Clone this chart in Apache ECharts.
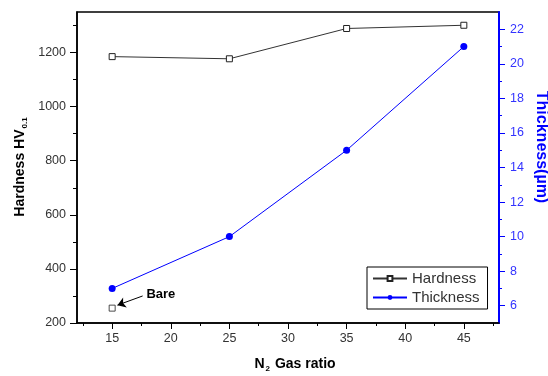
<!DOCTYPE html>
<html>
<head>
<meta charset="utf-8">
<script src="https://cdn.jsdelivr.net/npm/echarts@6/dist/echarts.min.js"></script>
<style>html,body{margin:0;padding:0;background:#fff;}#c{width:548px;height:376px;}</style>
</head>
<body>
<div id="c"></div>
<script>
var gasRatio = [15, 25, 35, 45];
var hardness = [1185, 1177, 1289, 1301];
var thickness = [7, 10, 15, 21];
var bareRatio = 15;
var bareHardness = 255;
var xTicks = [15, 20, 25, 30, 35, 40, 45];
var xMinorTicks = [12.5, 17.5, 22.5, 27.5, 32.5, 37.5, 42.5, 47.5];
var hTicks = [200, 400, 600, 800, 1000, 1200];
var hMinorTicks = [300, 500, 700, 900, 1100, 1300];
var tTicks = [6, 8, 10, 12, 14, 16, 18, 20, 22];
var tMinorTicks = [7, 9, 11, 13, 15, 17, 19, 21];

var FONT = '"Liberation Sans", Arial, sans-serif';
var BLUE = '#0000ff';

var chart = echarts.init(document.getElementById('c'), null, {renderer: 'canvas'});
var labelStyle = {fontFamily: FONT, fontSize: 12.5, color: '#333', formatter: function (v) { return String(v); }};

chart.setOption({
  animation: false,
  backgroundColor: '#fff',
  grid: {left: 77, right: 49, top: 12, bottom: 53, show: true, borderColor: '#000', borderWidth: 1.5},
  legend: {
    data: ['Hardness', 'Thickness'],
    orient: 'vertical', left: 367, top: 267,
    backgroundColor: '#fff', borderColor: '#000', borderWidth: 1, borderRadius: 0,
    padding: [4, 8, 4, 5], itemGap: 4, itemWidth: 34, itemHeight: 6,
    textStyle: {fontFamily: FONT, fontSize: 15, color: '#333'}
  },
  xAxis: [{
    type: 'value', min: 12, max: 48, position: 'bottom',
    axisLine: {show: true, lineStyle: {color: '#000', width: 1.5}},
    axisTick: {show: true, length: 6, customValues: xTicks, lineStyle: {color: '#000'}},
    axisLabel: Object.assign({customValues: xTicks, margin: 9}, labelStyle),
    splitLine: {show: false}
  }, {
    type: 'value', min: 12, max: 48, position: 'bottom',
    axisLine: {show: false},
    axisTick: {show: true, length: 3, customValues: xMinorTicks, lineStyle: {color: '#000'}},
    axisLabel: {show: false},
    splitLine: {show: false}
  }],
  yAxis: [{
    type: 'value', min: 200, max: 1350, position: 'left',
    axisLine: {show: true, lineStyle: {color: '#000', width: 1.5}},
    axisTick: {show: true, length: 7, customValues: hTicks, lineStyle: {color: '#000'}},
    axisLabel: Object.assign({customValues: hTicks, margin: 11}, labelStyle),
    splitLine: {show: false}
  }, {
    type: 'value', min: 200, max: 1350, position: 'left',
    axisLine: {show: false},
    axisTick: {show: true, length: 4, customValues: hMinorTicks, lineStyle: {color: '#000'}},
    axisLabel: {show: false},
    splitLine: {show: false}
  }, {
    type: 'value', min: 5, max: 23, position: 'right',
    axisLine: {show: true, lineStyle: {color: BLUE, width: 2}},
    axisTick: {show: true, length: 6, customValues: tTicks, lineStyle: {color: BLUE}},
    axisLabel: Object.assign({customValues: tTicks, margin: 11}, labelStyle, {color: '#3333ff'}),
    splitLine: {show: false}
  }, {
    type: 'value', min: 5, max: 23, position: 'right',
    axisLine: {show: false},
    axisTick: {show: true, length: 3, customValues: tMinorTicks, lineStyle: {color: BLUE}},
    axisLabel: {show: false},
    splitLine: {show: false}
  }],
  graphic: [{
    type: 'text', x: 20, y: 167, rotation: Math.PI / 2,
    style: {
      text: '{b|Hardness HV}{s|0.1}', align: 'center', verticalAlign: 'middle',
      rich: {
        b: {fontFamily: FONT, fontSize: 14, fontWeight: 'bold', fill: '#000', color: '#000'},
        s: {fontFamily: FONT, fontSize: 8, fontWeight: 'bold', fill: '#000', color: '#000', padding: [10, 0, 0, 1]}
      }
    }
  }, {
    type: 'text', x: 295, y: 364,
    style: {
      text: '{b|N}{s|2}{b| Gas ratio}', align: 'center', verticalAlign: 'middle',
      rich: {
        b: {fontFamily: FONT, fontSize: 14, fontWeight: 'bold', fill: '#000', color: '#000'},
        s: {fontFamily: FONT, fontSize: 8, fontWeight: 'bold', fill: '#000', color: '#000', padding: [10, 1, 0, 1]}
      }
    }
  }, {
    type: 'text', x: 541, y: 147, rotation: -Math.PI / 2,
    style: {
      text: 'Thickness(\u00b5m)', align: 'center', verticalAlign: 'middle',
      font: 'bold 16px ' + FONT, fill: BLUE
    }
  }],
  series: [{
    name: 'Hardness', type: 'line', xAxisIndex: 0, yAxisIndex: 0,
    data: gasRatio.map(function (x, i) { return [x, hardness[i]]; }),
    symbol: 'rect', symbolSize: 6, showAllSymbol: true,
    lineStyle: {color: '#333', width: 1},
    itemStyle: {color: '#fff', borderColor: '#222', borderWidth: 1}
  }, {
    name: 'Thickness', type: 'line', xAxisIndex: 0, yAxisIndex: 2,
    data: gasRatio.map(function (x, i) { return [x, thickness[i]]; }),
    symbol: 'circle', symbolSize: 7,
    lineStyle: {color: BLUE, width: 1},
    itemStyle: {color: BLUE}
  }, {
    name: 'Bare', type: 'scatter', xAxisIndex: 0, yAxisIndex: 0,
    data: [[bareRatio, bareHardness]],
    symbol: 'rect', symbolSize: 6,
    itemStyle: {color: '#fff', borderColor: '#222', borderWidth: 1},
    markLine: {
      silent: true, symbol: ['none', 'arrow'], symbolSize: 8,
      lineStyle: {color: '#000', width: 1, type: 'solid'},
      label: {show: true, position: 'start', formatter: 'Bare', fontFamily: FONT, fontSize: 13, fontWeight: 'bold', color: '#000', distance: 4},
      data: [[{coord: [17.6, 300]}, {coord: [15.45, 266]}]]
    }
  }]
});
</script>
</body>
</html>
